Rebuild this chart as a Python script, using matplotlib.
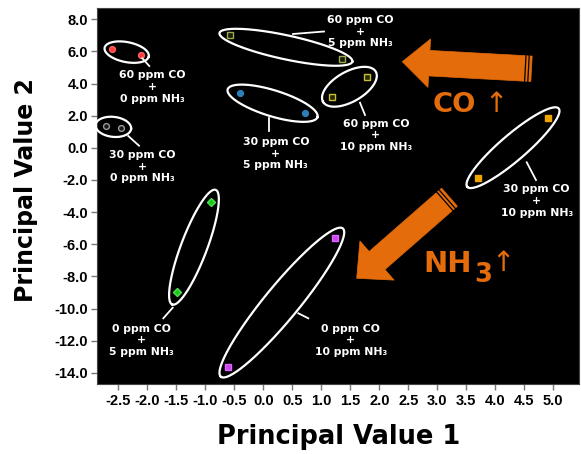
import numpy as np
import matplotlib
matplotlib.use("Agg")
import matplotlib.pyplot as plt
from matplotlib.lines import Line2D
from matplotlib.patches import Polygon

W, H = 581, 454

# ---------------- data ----------------
co_ppm = [60, 30, 60, 30, 60, 30, 0, 0]
nh3_ppm = [0, 0, 5, 5, 10, 10, 5, 10]
pc1_first = [-2.60, -2.72, -0.57, -0.40, 1.79, 4.91, -0.90, 1.24]
pc2_first = [6.13, 1.36, 7.00, 3.40, 4.43, 1.88, -3.37, -5.59]
pc1_second = [-2.11, -2.45, 1.35, 0.72, 1.18, 3.70, -1.49, -0.60]
pc2_second = [5.78, 1.25, 5.51, 2.15, 3.17, -1.86, -8.99, -13.66]

x_ticks = [-2.5, -2.0, -1.5, -1.0, -0.5, 0.0, 0.5, 1.0, 1.5, 2.0, 2.5,
           3.0, 3.5, 4.0, 4.5, 5.0]
y_ticks = [8.0, 6.0, 4.0, 2.0, 0.0, -2.0, -4.0, -6.0, -8.0, -10.0,
           -12.0, -14.0]

# ---------------- styles ----------------
marker_style = [
    dict(marker="o", mfc="#ff3a3a", mec="#ff6060"),
    dict(marker="o", mfc="#1a1a1a", mec="#9a9a9a"),
    dict(marker="s", mfc="#1a1a10", mec="#9aab45"),
    dict(marker="o", mfc="#2c7fba", mec="#2c7fba"),
    dict(marker="s", mfc="#2a2a00", mec="#c8be35"),
    dict(marker="s", mfc="#f0a400", mec="#f0a400"),
    dict(marker="D", mfc="#18c818", mec="#50e050"),
    dict(marker="s", mfc="#cc44ee", mec="#dd66ff"),
]
ell_pad = [8, 10, 11, 13, 10, 14, 13, 12]
ell_b = [10, 10, 12, 13, 15, 13, 13, 17]
label_pos = [(152.5, 86), (142.5, 165.7), (360.5, 30.7), (275.8, 152.7),
             (375.8, 134.3), (536.7, 200), (141.7, 339.3), (350.8, 339.3)]
leaders = [((142.3, 58.3), (149.3, 66)), ((128.3, 136), (139, 145.7)),
           ((293, 34), (324, 31.5)), ((269.3, 117.7), (269.3, 131)),
           ((360, 102.7), (365, 115)), ((526.7, 162.3), (536, 180)),
           ((172.7, 307.7), (163.3, 318.3)), ((298.3, 313.3), (308.3, 318.3))]

ORANGE = "#e46c0a"

fig = plt.figure(figsize=(W / 100, H / 100), dpi=100)
fig.patch.set_facecolor("white")
ax = fig.add_axes([96.7 / W, 1 - 384 / H, (579 - 96.7) / W, (384 - 8.3) / H])
ax.set_facecolor("black")
ax.set_xlim(-2.872, 5.443)
ax.set_ylim(-14.69, 8.68)
ax.set_xticks(x_ticks)
ax.set_yticks(y_ticks)
ax.set_xticklabels([f"{v:.1f}" for v in x_ticks])
ax.set_yticklabels([f"{v:.1f}" for v in y_ticks])
for lab in ax.get_xticklabels() + ax.get_yticklabels():
    lab.set_family("Liberation Sans")
    lab.set_fontweight("bold")
    lab.set_fontsize(10.5)
ax.tick_params(direction="out", length=4, width=1, color="#777777", pad=2)
ax.tick_params(axis="x", pad=3)
for s in ax.spines.values():
    s.set_color("#444444")

# points and ellipses
for i in range(len(co_ppm)):
    xs = [pc1_first[i], pc1_second[i]]
    ys = [pc2_first[i], pc2_second[i]]
    st = marker_style[i]
    ax.plot(xs, ys, ls="none", ms=4.2, mew=1.0, zorder=5, **st)
    pts = ax.transData.transform(np.column_stack([xs, ys]))
    p1, p2 = pts[0], pts[1]
    c = (p1 + p2) / 2
    d = p2 - p1
    L = np.hypot(*d)
    u = d / L
    v = np.array([-u[1], u[0]])
    a = L / 2 + ell_pad[i]
    t = np.linspace(0, 2 * np.pi, 300)
    ring = c + a * np.cos(t)[:, None] * u + ell_b[i] * np.sin(t)[:, None] * v
    ring_d = ax.transData.inverted().transform(ring)
    ax.plot(ring_d[:, 0], ring_d[:, 1], color="white", lw=1.6, clip_on=False,
            zorder=4)


def fx(x):
    return x / W


def fy(y):
    return 1 - y / H


# leader lines and labels
for i in range(len(co_ppm)):
    (x0, y0), (x1, y1) = leaders[i]
    fig.add_artist(Line2D([fx(x0), fx(x1)], [fy(y0), fy(y1)],
                          transform=fig.transFigure, color="white", lw=1.3))
    cx, cy = label_pos[i]
    rows = [f"{co_ppm[i]} ppm CO", "+", f"{nh3_ppm[i]} ppm NH\u2083"]
    for k, r in enumerate(rows):
        yy = cy + (k - 1) * 11.7 + 4
        fig.text(fx(cx), fy(yy), r, color="white", fontsize=7.8,
                 fontweight="bold", ha="center", va="baseline",
                 family="DejaVu Sans")


# big orange arrows (pixel geometry in figure space)
def big_arrow(tip, tail, shaft_w, head_w, head_l):
    tip = np.array(tip, float)
    tail = np.array(tail, float)
    d = tip - tail
    L = np.hypot(*d)
    u = d / L
    v = np.array([-u[1], u[0]])
    base = tip - u * head_l
    pts = [tail + v * shaft_w / 2, base + v * shaft_w / 2, base + v * head_w / 2,
           tip, base - v * head_w / 2, base - v * shaft_w / 2,
           tail - v * shaft_w / 2]
    pts = [(fx(p[0]), fy(p[1])) for p in pts]
    fig.add_artist(Polygon(pts, closed=True, transform=fig.transFigure,
                           facecolor=ORANGE, edgecolor=ORANGE, lw=0.5))
    for off in (3.0, 6.2):
        q = tail + u * off
        a1 = q + v * (shaft_w / 2 + 0.3)
        a2 = q - v * (shaft_w / 2 + 0.3)
        fig.add_artist(Line2D([fx(a1[0]), fx(a2[0])], [fy(a1[1]), fy(a2[1])],
                              transform=fig.transFigure, color="black", lw=0.9))


big_arrow((402.3, 61.7), (531.5, 68.8), 25.5, 48.5, 27)
big_arrow((356.7, 278.3), (449.5, 197.2), 24.0, 52, 27)

fig.text(fx(433), fy(111.5), "CO", color=ORANGE, fontsize=19.7,
         fontweight="bold", ha="left", va="baseline", family="DejaVu Sans")
fig.text(fx(495.5), fy(104), "\u2191", color=ORANGE, fontsize=20,
         ha="center", va="center", family="DejaVu Sans")
fig.text(fx(423), fy(272), "NH", color=ORANGE, fontsize=21,
         fontweight="bold", ha="left", va="baseline", family="DejaVu Sans")
fig.text(fx(474.5), fy(281.5), "3", color=ORANGE, fontsize=18.5,
         fontweight="bold", ha="left", va="baseline", family="DejaVu Sans")
fig.text(fx(503.3), fy(263), "\u2191", color=ORANGE, fontsize=20,
         ha="center", va="center", family="DejaVu Sans")

# axis titles
fig.text(fx(339), fy(437), "Principal Value 1", fontsize=18.5,
         fontweight="bold", ha="center", va="center", family="DejaVu Sans")
fig.text(fx(26), fy(190), "Principal Value 2", fontsize=17,
         fontweight="bold", ha="center", va="center", rotation=90,
         family="DejaVu Sans")

fig.savefig("out.png", dpi=100, facecolor="white")
